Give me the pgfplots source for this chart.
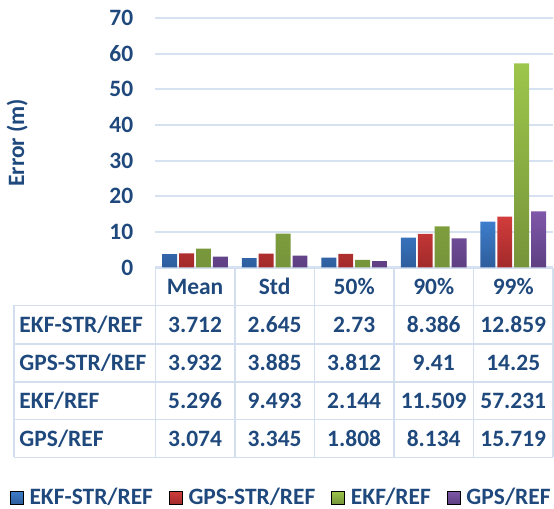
\documentclass[border=0pt]{standalone}
\usepackage{pgfplots}
\pgfplotsset{compat=1.18}
\usepackage{fontspec}
\setmainfont{Carlito}
\definecolor{txt}{HTML}{1F497D}
\definecolor{gridc}{HTML}{D6E1F1}
\definecolor{tblc}{HTML}{D3DEEF}
\definecolor{blueT}{HTML}{3D7DCB}
\definecolor{blueB}{HTML}{2E5D9C}
\definecolor{redT}{HTML}{D23C3C}
\definecolor{redB}{HTML}{A22A2A}
\definecolor{greenT}{HTML}{9DC64B}
\definecolor{greenB}{HTML}{76943A}
\definecolor{purpT}{HTML}{7F58A9}
\definecolor{purpB}{HTML}{5D3F82}
\newcommand{\tf}{\fontsize{11.8}{14}\selectfont\bfseries}
\begin{document}
\begin{tikzpicture}
\begin{scope}[shift={(-78pt,134.5pt)}, x=0.5pt, y=-0.5pt]
\useasboundingbox (0,0) rectangle (554,511);
\end{scope}
\begin{axis}[
  width=200pt, height=125.5pt, scale only axis,
  xmin=-0.5, xmax=4.5, ymin=0, ymax=70,
  ytick={0,10,...,70}, xtick=\empty,
  ymajorgrids, grid style={gridc, line width=1pt},
  axis line style={draw=none}, major tick length=0pt,
  yticklabel style={text=txt, font=\tf, xshift=-7.6pt},
  /pgf/number format/assume math mode=true,
  ylabel={Error (m)},
  every axis y label/.style={at={(axis description cs:-0.3475,0.5)}, rotate=90, anchor=center, text=txt, font=\tf},
  legend columns=4,
  legend style={at={(0.314,-0.922)}, anchor=center, draw=none, fill=none, inner sep=0pt,
    nodes={inner sep=0pt, text=txt, font=\tf},
    /tikz/every odd column/.append style={column sep=3pt},
    /tikz/every even column/.append style={column sep=8pt}},
]
\addlegendimage{legend image code/.code={\fill[top color=blueT, bottom color=blueB] (0pt,-3.25pt) rectangle (6.5pt,3.25pt);}}
\addlegendentry{EKF-STR/REF}
\addlegendimage{legend image code/.code={\fill[top color=redT, bottom color=redB] (0pt,-3.25pt) rectangle (6.5pt,3.25pt);}}
\addlegendentry{GPS-STR/REF}
\addlegendimage{legend image code/.code={\fill[top color=greenT, bottom color=greenB] (0pt,-3.25pt) rectangle (6.5pt,3.25pt);}}
\addlegendentry{EKF/REF}
\addlegendimage{legend image code/.code={\fill[top color=purpT, bottom color=purpB] (0pt,-3.25pt) rectangle (6.5pt,3.25pt);}}
\addlegendentry{GPS/REF}
\addplot[ybar, bar width=0.1875, bar shift=-0.31875, draw=none, top color=blueT, bottom color=blueB, forget plot]
  coordinates {(0,3.712) (1,2.645) (2,2.73) (3,8.386) (4,12.859)};
\addplot[ybar, bar width=0.1875, bar shift=-0.10625, draw=none, top color=redT, bottom color=redB, forget plot]
  coordinates {(0,3.932) (1,3.885) (2,3.812) (3,9.41) (4,14.25)};
\addplot[ybar, bar width=0.1875, bar shift=0.10625, draw=none, top color=greenT, bottom color=greenB, forget plot]
  coordinates {(0,5.296) (1,9.493) (2,2.144) (3,11.509) (4,57.231)};
\addplot[ybar, bar width=0.1875, bar shift=0.31875, draw=none, top color=purpT, bottom color=purpB, forget plot]
  coordinates {(0,3.074) (1,3.345) (2,1.808) (3,8.134) (4,15.719)};
\end{axis}
\begin{scope}[shift={(-78pt,134.5pt)}, x=0.5pt, y=-0.5pt]
\begin{scope}[draw=tblc, line width=0.75pt]
\draw (156,270) -- (556,270);
\foreach \yy in {307,346,384,422,460} \draw (14,\yy) -- (556,\yy);
\draw (14,307) -- (14,460);
\foreach \xx in {156,236,316,396,476,556} \draw (\xx,270) -- (\xx,460);
\end{scope}
\foreach \h [count=\i from 0] in {Mean,Std,50\%,90\%,99\%}
  \node[text=txt, font=\tf, inner sep=0pt] at (196+80*\i,288.5) {\h};
\node[text=txt, font=\tf, inner sep=0pt, anchor=west] at (19,326.5) {EKF-STR/REF};
\node[text=txt, font=\tf, inner sep=0pt, anchor=west] at (19,365) {GPS-STR/REF};
\node[text=txt, font=\tf, inner sep=0pt, anchor=west] at (19,403) {EKF/REF};
\node[text=txt, font=\tf, inner sep=0pt, anchor=west] at (19,441) {GPS/REF};
\foreach \v [count=\i from 0] in {3.712,2.645,2.73,8.386,12.859}
  \node[text=txt, font=\tf, inner sep=0pt] at (196+80*\i,326.5) {\v};
\foreach \v [count=\i from 0] in {3.932,3.885,3.812,9.41,14.25}
  \node[text=txt, font=\tf, inner sep=0pt] at (196+80*\i,365) {\v};
\foreach \v [count=\i from 0] in {5.296,9.493,2.144,11.509,57.231}
  \node[text=txt, font=\tf, inner sep=0pt] at (196+80*\i,403) {\v};
\foreach \v [count=\i from 0] in {3.074,3.345,1.808,8.134,15.719}
  \node[text=txt, font=\tf, inner sep=0pt] at (196+80*\i,441) {\v};
\end{scope}
\end{tikzpicture}
\end{document}
